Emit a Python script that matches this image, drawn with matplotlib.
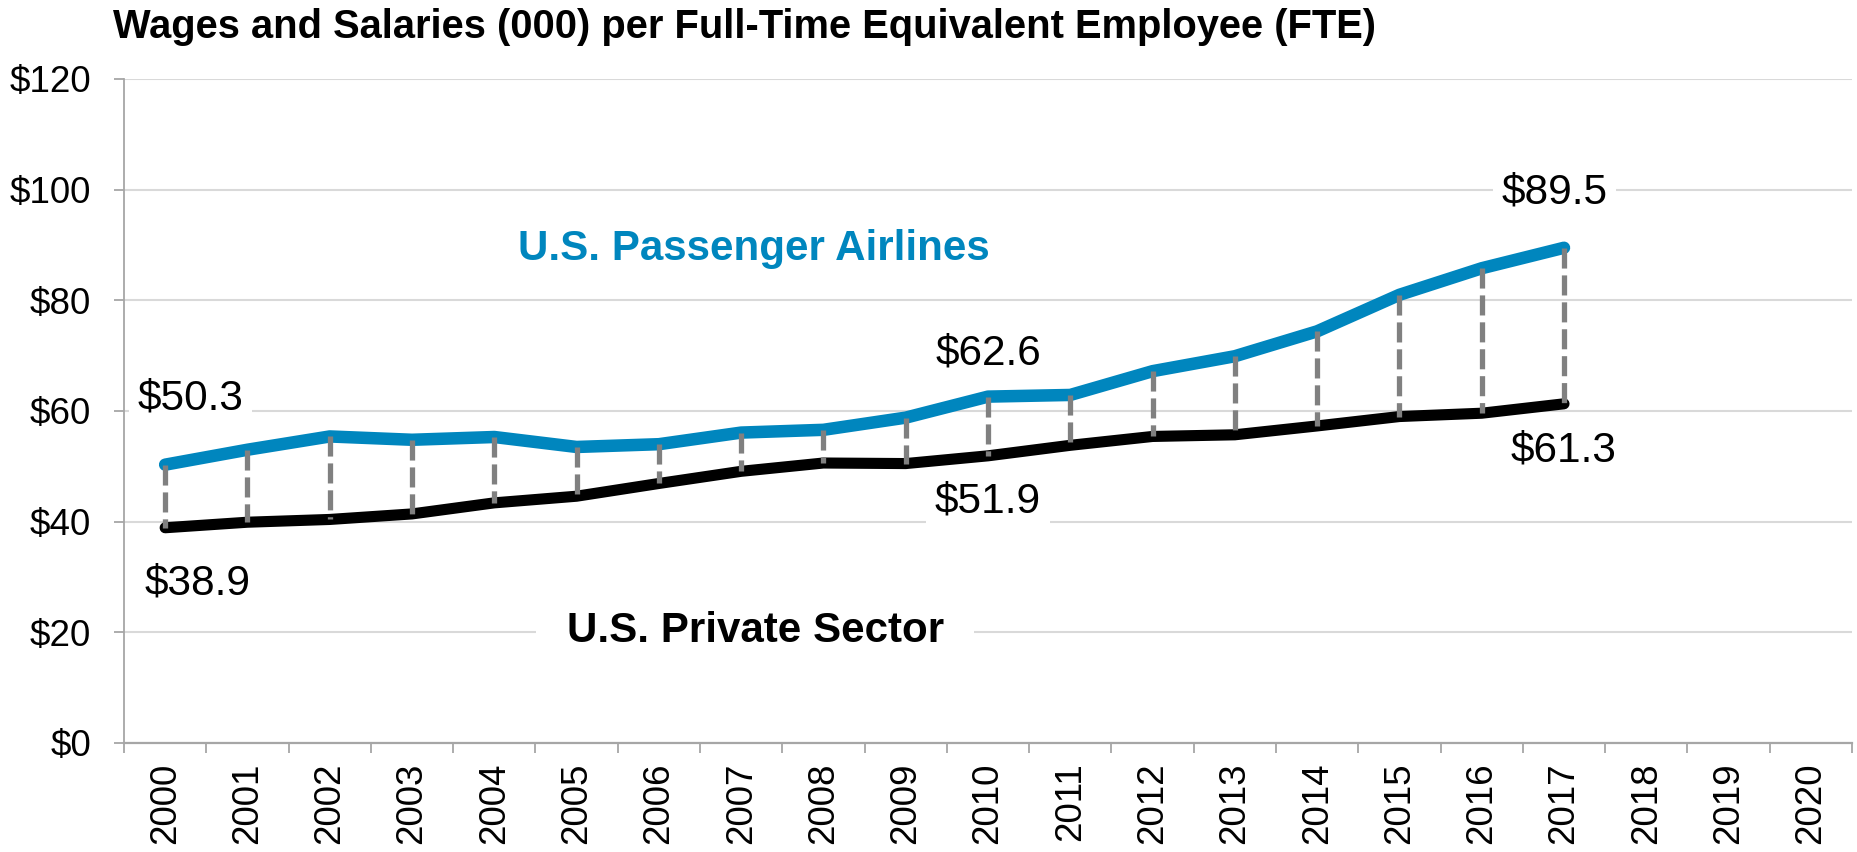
import matplotlib
matplotlib.use("Agg")
import matplotlib.pyplot as plt
import numpy as np

plt.rcParams['font.family'] = ['Liberation Sans', 'DejaVu Sans']

years = [str(y) for y in range(2000, 2021)]
airlines = [50.3, 53.0, 55.4, 54.8, 55.3, 53.5, 54.0, 56.1, 56.6, 58.8,
            62.6, 62.9, 67.2, 69.9, 74.4, 81.0, 85.8, 89.5]
private = [38.9, 39.9, 40.4, 41.4, 43.4, 44.6, 46.9, 49.1, 50.6, 50.5,
           51.9, 53.8, 55.4, 55.7, 57.3, 59.0, 59.6, 61.3]
yticks = [0, 20, 40, 60, 80, 100, 120]
ytick_labels = ['$0', '$20', '$40', '$60', '$80', '$100', '$120']
title = 'Wages and Salaries (000) per Full-Time Equivalent Employee (FTE)'

BLUE = '#0086BE'
GRAY = '#808080'

fig = plt.figure(figsize=(18.58, 8.52), dpi=100)
ax = fig.add_axes([124/1858, 1-743/852, (1852-124)/1858, (743-79)/852])

x = np.arange(len(airlines))
# dashed connectors
for xi, a, p in zip(x, airlines, private):
    ax.plot([xi, xi], [a, p], color=GRAY, lw=3.8, linestyle=(0, (3.8, 1.3)),
            solid_capstyle='butt', dash_capstyle='butt', zorder=4)
ax.plot(x, airlines, color=BLUE, lw=9, solid_capstyle='round',
        solid_joinstyle='round', zorder=3)
ax.plot(x, private, color='black', lw=8, solid_capstyle='round',
        solid_joinstyle='round', zorder=3)

ax.set_xlim(-0.5, len(years) - 0.5)
ax.set_ylim(0, 120)
ax.set_yticks(yticks)
ax.set_yticklabels(ytick_labels, fontsize=26.5)
ax.set_xticks(np.arange(len(years)))
ax.set_xticklabels(years, rotation=90, fontsize=26.5)
ax.set_xticks(np.arange(len(years) + 1) - 0.5, minor=True)
ax.tick_params(axis='x', which='major', length=0, pad=14)
ax.tick_params(axis='x', which='minor', length=7.5, width=1.3, color='#a6a6a6')
ax.tick_params(axis='y', length=7.5, width=1.3, color='#a6a6a6', pad=16)
ax.grid(axis='y', color='#d9d9d9', lw=1.5, zorder=0)
ax.set_axisbelow(True)
for s in ['top', 'right']:
    ax.spines[s].set_visible(False)
ax.spines['left'].set_color('#a6a6a6')
ax.spines['left'].set_linewidth(1.3)
ax.spines['bottom'].set_color('#a6a6a6')
ax.spines['bottom'].set_linewidth(1.6)
ax.spines['bottom'].set_zorder(5)

fs = 30.5
wb = dict(facecolor='white', edgecolor='none', pad=6)
ax.text(0.31, 62.2, f'${airlines[0]:.1f}', fontsize=fs, ha='center', va='center',
        bbox=wb, zorder=2)
ax.text(0.40, 28.8, f'${private[0]:.1f}', fontsize=fs, ha='center', va='center')
ax.text(10.0, 70.4, f'${airlines[10]:.1f}', fontsize=fs, ha='center', va='center')
ax.text(10.0, 43.7, f'${private[10]:.1f}', fontsize=fs, ha='center', va='center',
        bbox=wb, zorder=2)
ax.text(16.89, 99.4, f'${airlines[-1]:.1f}', fontsize=fs, ha='center', va='center',
        bbox=wb, zorder=2)
ax.text(17.0, 52.95, f'${private[-1]:.1f}', fontsize=fs, ha='center', va='center')

ax.text(7.16, 89.3, 'U.S. Passenger Airlines', fontsize=30.3, fontweight='bold',
        color=BLUE, ha='center', va='center')
ax.text(7.17, 20.2, 'U.S. Private Sector', fontsize=30.3, fontweight='bold',
        color='black', ha='center', va='center',
        bbox=dict(facecolor='white', edgecolor='none', pad=22), zorder=2)

fig.text(113/1858, 1-27/852, title, fontsize=28.7, fontweight='bold',
         ha='left', va='center')

fig.savefig('out.png', dpi=100)
